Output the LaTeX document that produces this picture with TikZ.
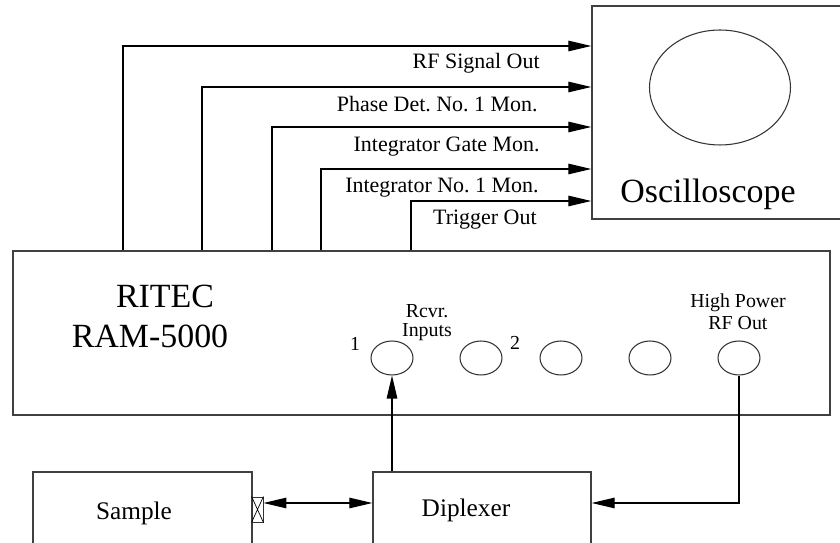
\documentclass[tikz,border=0pt]{standalone}
\usepackage{fontspec}
\setmainfont{Liberation Serif}
\usetikzlibrary{arrows.meta,shapes.geometric}
\begin{document}
\frenchspacing
\begin{tikzpicture}[x=0.02cm,y=-0.02cm,
  box/.style={draw=black!75,line width=0.8pt,rectangle,inner sep=0pt},
  jack/.style={draw=black!80,ellipse,line width=0.6pt,minimum width=0.84cm,minimum height=0.68cm,inner sep=0pt},
  sig/.style={line width=0.7pt,-{Triangle[length=0.46cm,width=0.21cm]}},
  lbl/.style={anchor=base east,inner sep=0pt,font=\fontsize{12.5}{14}\selectfont},
  small/.style={anchor=base,inner sep=0pt,font=\fontsize{11.3}{13}\selectfont},
  mid/.style={anchor=base,inner sep=0pt,font=\fontsize{14.4}{16}\selectfont},
  big/.style={anchor=base,inner sep=0pt,font=\fontsize{19.3}{22}\selectfont}]
  \clip (0,0) rectangle (840,543);
  % oscilloscope
  \node (scope) [box,minimum width=5.06cm,minimum height=4.26cm] at (718.5,112.5) {};
  \node (screen) [draw=black!80,ellipse,line width=0.6pt,minimum width=2.82cm,minimum height=2.3cm] at (720,87.5) {};
  \node (scopename) [big] at (708,203) {Oscilloscope};
  % receiver
  \node (ritec) [box,minimum width=16.34cm,minimum height=3.28cm] at (421.5,333) {};
  \node (maker) [big] at (165,308) {RITEC};
  \node (model) [big] at (150,348) {RAM-5000};
  \foreach \x [count=\i] in {392,481,561,650,739}
    \node (jack\i) [jack] at (\x,358) {};
  \node (one) [small] at (355,351) {1};
  \node (two) [small] at (515,350) {2};
  \node (rcvr) [small] at (427,318) {Rcvr.};
  \node (inputs) [small] at (427,337) {Inputs};
  \node (hp) [small] at (738,308) {High Power};
  \node (rfout) [small] at (738,330) {RF Out};
  % monitor outputs
  \node (rfsig) [lbl] at (540,69) {RF Signal Out};
  \node (phase) [lbl] at (538,112) {Phase Det. No. 1 Mon.};
  \node (gate) [lbl] at (540,152) {Integrator Gate Mon.};
  \node (integ) [lbl] at (539,193) {Integrator No. 1 Mon.};
  \node (trig) [lbl] at (537,225) {Trigger Out};
  \foreach \x/\y in {123/46,202/87,272/127,321/169,411/201}
    \draw[sig] (ritec.north -| \x,0) |- (scope.west |- 0,\y);
  % sample side
  \node (sample) [box,minimum width=4.38cm,minimum height=1.96cm] at (142.5,521) {};
  \node (samplename) [mid] at (134,520) {Sample};
  \node (diplexer) [box,minimum width=4.36cm,minimum height=1.96cm] at (482,521) {};
  \node (diplexername) [mid] at (466,517) {Diplexer};
  \node (conn) [draw=black!80,line width=0.5pt,minimum width=0.22cm,minimum height=0.5cm,inner sep=0pt] at (257.5,509.5) {};
  \draw[line width=0.4pt] (conn.north west) -- (conn.south east) (conn.north east) -- (conn.south west);
  \coordinate (link) at (0,503);
  \draw[line width=0.7pt,{Triangle[length=0.46cm,width=0.21cm]}-{Triangle[length=0.46cm,width=0.21cm]}] (conn.east |- link) -- (diplexer.west |- link);
  \draw[sig] (diplexer.north -| jack1) -- (jack1.south);
  \draw[sig] (jack5.south) |- (diplexer.east |- link);
\end{tikzpicture}
\end{document}
